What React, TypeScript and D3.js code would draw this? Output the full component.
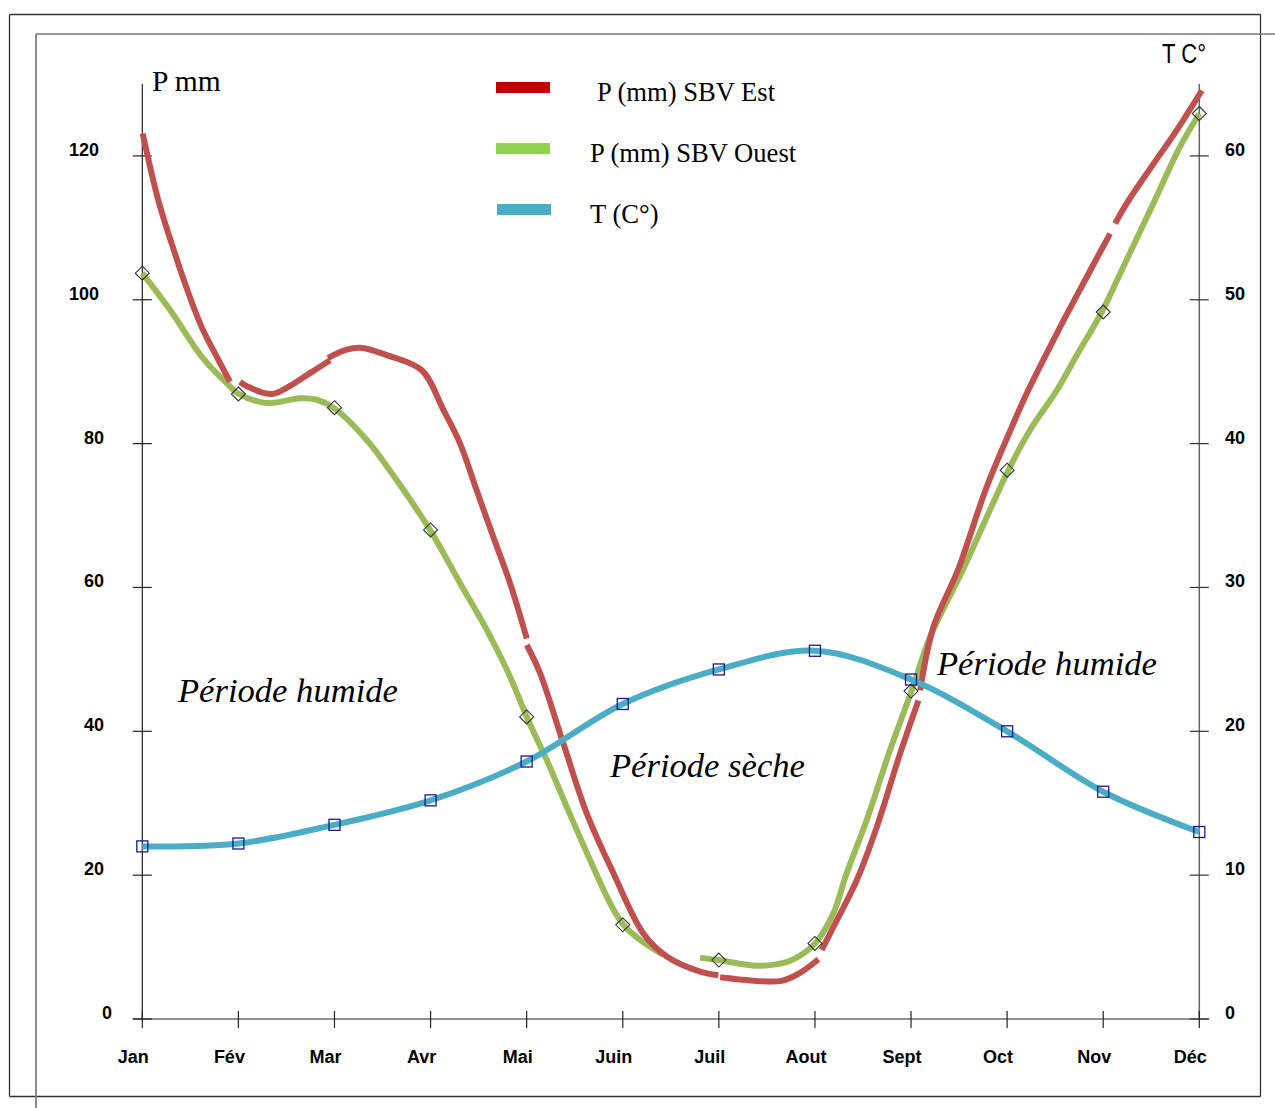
import React from "react";
import * as d3 from "d3";

const months = ["Jan", "Fév", "Mar", "Avr", "Mai", "Juin", "Juil", "Aout", "Sept", "Oct", "Nov", "Déc"];
const pTicks = [0, 20, 40, 60, 80, 100, 120];
const tTicks = [0, 10, 20, 30, 40, 50, 60];

// Temperature (°C), one value per month
const tempValues = [12.0, 12.2, 13.5, 15.2, 17.9, 21.9, 24.3, 25.6, 23.6, 20.0, 15.8, 13.0];
// P (mm) SBV Ouest, monthly values (markers)
const ouestValues = [103.7, 86.9, 85.0, 68.0, 42.0, 13.1, 8.2, 10.5, 45.6, 76.3, 98.3, 125.9];

// Traced curve of P SBV Ouest: [month position, mm], drawn in pieces
const ouestTrace: [number, number][][] = [
  [
    [0.0, 103.7], [0.288, 98.6], [0.618, 92.1], [0.878, 88.4], [1.006, 86.9], [1.259, 85.7],
    [1.381, 85.7], [1.641, 86.3], [1.815, 86.1], [1.988, 85.0], [2.336, 80.5], [2.648, 74.9],
    [2.994, 68.0], [3.307, 60.6], [3.585, 54.1], [3.827, 47.6], [4.001, 42.0], [4.209, 36.0],
    [4.417, 29.5], [4.66, 22.1], [4.868, 16.1], [5.006, 13.1], [5.18, 11.0], [5.423, 8.9],
  ],
  [
    [5.805, 8.5], [5.995, 8.2], [6.395, 7.4], [6.637, 7.7], [6.776, 8.3], [7.001, 10.5],
    [7.192, 14.7], [7.331, 20.3], [7.54, 27.7], [7.782, 37.4], [8.008, 45.7], [8.198, 53.1],
    [8.545, 62.6], [9.013, 76.3], [9.239, 81.9], [9.517, 87.4], [9.725, 92.3], [9.985, 98.3],
    [10.21, 104.6], [10.522, 113.4], [10.8, 121.3], [11.001, 125.9],
  ],
];

// Traced curve of P SBV Est: [month position, mm], drawn in pieces
const estTrace: [number, number][][] = [
  [[0.004, 123.1], [0.167, 113.8], [0.306, 107.8], [0.444, 102.3], [0.618, 96.2], [0.774, 92.1], [0.913, 88.6]],
  [[1.017, 88.6], [1.1, 87.9], [1.347, 86.9], [1.52, 87.9], [1.745, 89.8], [1.954, 91.6]],
  [
    [1.933, 91.9], [2.11, 93.0], [2.284, 93.3], [2.544, 92.3], [2.908, 90.2], [3.133, 84.7],
    [3.307, 80.0], [3.48, 73.5], [3.653, 67.0], [3.827, 60.6], [4.001, 52.9],
  ],
  [
    [4.001, 52.0], [4.139, 48.1], [4.382, 38.3], [4.625, 28.6], [4.902, 20.3], [5.214, 11.9],
    [5.458, 8.7], [5.805, 6.6], [5.995, 6.1],
  ],
  [[6.013, 5.8], [6.395, 5.3], [6.655, 5.3], [6.845, 6.4], [7.036, 8.3]],
  [[7.071, 9.6], [7.192, 12.8], [7.435, 19.3], [7.644, 26.7], [7.886, 36.9], [8.077, 44.3]],
  [
    [8.095, 45.7], [8.233, 54.5], [8.493, 62.6], [8.788, 74.0], [9.065, 82.8], [9.205, 87.0],
    [9.517, 95.3], [9.794, 102.3], [10.072, 109.2],
  ],
  [[10.124, 110.6], [10.245, 113.4], [10.523, 118.9], [10.766, 123.6], [11.026, 129.1]],
];

const legendItems = [
  { label: "P (mm) SBV Est", color: "#C00000", dx: 101 },
  { label: "P (mm) SBV Ouest", color: "#92D050", dx: 94 },
  { label: "T (C°)", color: "#4BACC6", dx: 94 },
];

const W = 1275;
const H = 1108;

export default function App() {
  const x = d3.scaleLinear().domain([0, 11]).range([142.3, 1199.3]);
  const yP = d3.scaleLinear().domain([0, 130]).range([1019, 84]);
  const yT = d3.scaleLinear().domain([0, 65]).range([1019, 84]);

  const traceLine = d3
    .line<[number, number]>()
    .x((d) => x(d[0]))
    .y((d) => yP(d[1]))
    .curve(d3.curveCatmullRom.alpha(0.5));

  const tempLine = d3
    .line<number>()
    .x((_, i) => x(i))
    .y((d) => yT(d))
    .curve(d3.curveCatmullRom.alpha(0.5));

  const axisColor = "#222";
  const sansBold = { fontFamily: "'Liberation Sans', Arial, sans-serif", fontWeight: 700, fontSize: 18 } as const;
  const serif = "'Liberation Serif', 'Times New Roman', serif";

  const labelEnd = (s: string) => (s.length === 1 ? 112 : s.length === 2 ? 104 : 99);

  return (
    <svg
      width={W}
      height={H}
      viewBox={`0 0 ${W} ${H}`}
      style={{ position: "absolute", left: 0, top: 0, background: "#fff" }}
    >
      <rect x={0} y={0} width={W} height={H} fill="#fff" />
      {/* frames */}
      <line x1={9.5} y1={14.5} x2={1260.5} y2={14.5} stroke="#333" strokeWidth={1.3} />
      <line x1={9.5} y1={14.5} x2={9.5} y2={1096.5} stroke="#333" strokeWidth={1.3} />
      <line x1={1260.5} y1={14.5} x2={1260.5} y2={1096.5} stroke="#333" strokeWidth={1.3} />
      <line x1={9.5} y1={1096.5} x2={1260.5} y2={1096.5} stroke="#333" strokeWidth={1.3} />
      <line x1={36} y1={34} x2={1275} y2={34} stroke="#777" strokeWidth={1.7} />
      <line x1={36} y1={34} x2={36} y2={1108} stroke="#777" strokeWidth={1.7} />

      {/* axes */}
      <line x1={x(0)} y1={yP(130)} x2={x(0)} y2={yP(0)} stroke={axisColor} strokeWidth={1.2} />
      <line x1={x(11)} y1={yT(65)} x2={x(11)} y2={yT(0)} stroke="#666" strokeWidth={1.5} />
      <line x1={x(0) - 9.5} y1={yP(0)} x2={x(11) + 10} y2={yP(0)} stroke={axisColor} strokeWidth={1.2} />

      {pTicks.map((t) => (
        <g key={"p" + t}>
          <line x1={x(0) - 9.5} x2={x(0) + 9.5} y1={yP(t)} y2={yP(t)} stroke={axisColor} strokeWidth={1.2} />
          <text x={labelEnd(String(t))} y={yP(t)} textAnchor="end" {...sansBold} fill="#000">
            {t}
          </text>
        </g>
      ))}
      {tTicks.map((t) => (
        <g key={"t" + t}>
          <line x1={x(11) - 9.5} x2={x(11) + 9.5} y1={yT(t)} y2={yT(t)} stroke="#333" strokeWidth={1.2} />
          <text x={1225} y={yT(t)} textAnchor="start" {...sansBold} fill="#000">
            {t}
          </text>
        </g>
      ))}
      {months.map((m, i) => (
        <g key={m}>
          <line x1={x(i)} x2={x(i)} y1={yP(0) - 8} y2={yP(0) + 9} stroke={axisColor} strokeWidth={1.2} />
          <text x={x(i) - 9} y={1063} textAnchor="middle" {...sansBold} fill="#000">
            {m}
          </text>
        </g>
      ))}

      {/* axis titles */}
      <text x={152} y={91} fontFamily={serif} fontSize={29.5} fill="#000">
        P mm
      </text>
      <text
        x={1162}
        y={63}
        fontFamily="'Liberation Sans', Arial, sans-serif"
        fontSize={27}
        textLength={44}
        lengthAdjust="spacingAndGlyphs"
        fill="#000"
      >
        T C°
      </text>

      {/* legend */}
      {legendItems.map((item, i) => (
        <g key={item.label}>
          <rect x={496 + (i === 2 ? 1 : 0)} y={82 + i * 61} width={54} height={11} fill={item.color} />
          <text x={496 + item.dx} y={101 + i * 61} fontFamily={serif} fontSize={26.6} fill="#000">
            {item.label}
          </text>
        </g>
      ))}

      {/* series */}
      {ouestTrace.map((seg, i) => (
        <path key={"o" + i} d={traceLine(seg) || ""} fill="none" stroke="#9BBB59" strokeWidth={6} strokeLinecap="butt" strokeLinejoin="round" />
      ))}
      {estTrace.map((seg, i) => (
        <path key={"e" + i} d={traceLine(seg) || ""} fill="none" stroke="#C0504D" strokeWidth={6} strokeLinecap="butt" strokeLinejoin="round" />
      ))}
      <path d={tempLine(tempValues) || ""} fill="none" stroke="#4BACC6" strokeWidth={6} strokeLinejoin="round" />

      {/* markers */}
      {ouestValues.map((v, i) => {
        const cx = x(i);
        const cy = yP(v);
        const r = 7;
        return (
          <path
            key={"d" + i}
            d={`M${cx},${cy - r}L${cx + r},${cy}L${cx},${cy + r}L${cx - r},${cy}Z`}
            fill="none"
            stroke="#333"
            strokeWidth={1.1}
          />
        );
      })}
      {tempValues.map((v, i) => (
        <rect
          key={"s" + i}
          x={x(i) - 5.5}
          y={yT(v) - 5.5}
          width={11}
          height={11}
          fill="none"
          stroke="#1a1a8c"
          strokeWidth={1.3}
        />
      ))}

      {/* period labels */}
      <text x={178} y={702} fontFamily={serif} fontStyle="italic" fontSize={34.6} fill="#000">
        Période humide
      </text>
      <text x={610} y={777} fontFamily={serif} fontStyle="italic" fontSize={34.6} fill="#000">
        Période sèche
      </text>
      <text x={937} y={675} fontFamily={serif} fontStyle="italic" fontSize={34.6} fill="#000">
        Période humide
      </text>
    </svg>
  );
}
